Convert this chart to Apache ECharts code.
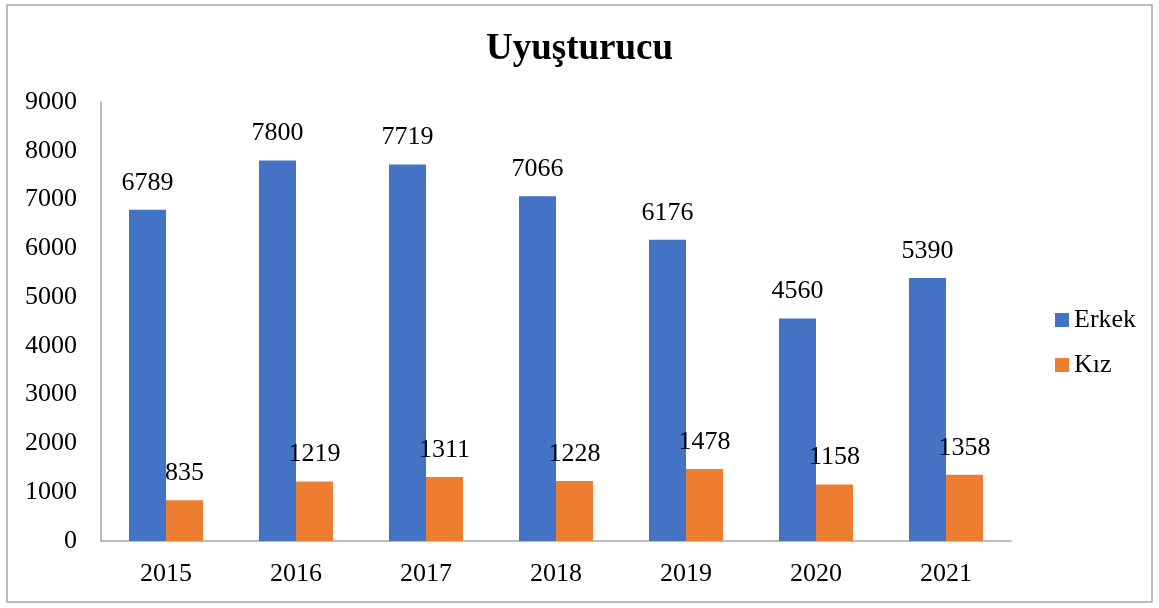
<!DOCTYPE html>
<html>
<head>
<meta charset="utf-8">
<script src="https://cdn.jsdelivr.net/npm/echarts@6/dist/echarts.min.js"></script>
<style>
  html, body { margin: 0; padding: 0; background: #fff; }
  .charts { width: 1159px; height: 608px; }
</style>
</head>
<body>
<div class="charts"></div>
<script>
var years = ['2015', '2016', '2017', '2018', '2019', '2020', '2021'];
var erkek = [6789, 7800, 7719, 7066, 6176, 4560, 5390];
var kiz = [835, 1219, 1311, 1228, 1478, 1158, 1358];

var charts = document.querySelector('.charts');
var myChart = echarts.init(charts, null, {renderer: 'canvas'});

var font = '"Liberation Serif", "Times New Roman", serif';
var labelStyle = {
    show: true,
    position: 'top',
    distance: 14,
    color: '#000',
    fontFamily: font,
    fontSize: 26
};

var option = {
    animation: false,
    graphic: [{
        type: 'rect',
        shape: {x: 7, y: 5, width: 1145, height: 597},
        style: {fill: 'none', stroke: '#a6a6a6', lineWidth: 1.5}
    }],
    title: {
        text: 'Uyuşturucu',
        left: 'center',
        top: 26,
        textStyle: {fontFamily: font, fontSize: 37, fontWeight: 'bold', color: '#000'}
    },
    legend: {
        orient: 'vertical',
        left: 1050,
        top: 302,
        itemWidth: 14,
        itemHeight: 14,
        itemGap: 19,
        icon: 'rect',
        textStyle: {fontFamily: font, fontSize: 26, color: '#000'},
        data: ['Erkek', 'Kız']
    },
    grid: {left: 101, right: 148, top: 102, bottom: 67},
    xAxis: {
        type: 'category',
        data: years,
        axisLine: {lineStyle: {color: '#a6a6a6', width: 1.5}},
        axisTick: {show: false},
        axisLabel: {fontFamily: font, fontSize: 26, color: '#000', margin: 20}
    },
    yAxis: {
        type: 'value',
        min: 0,
        max: 9000,
        interval: 1000,
        axisLine: {show: true, lineStyle: {color: '#a6a6a6', width: 1.5}},
        axisTick: {show: false},
        splitLine: {show: false},
        axisLabel: {
            fontFamily: font, fontSize: 26, color: '#000', margin: 24,
            formatter: function (v) { return String(v); }
        }
    },
    series: [
        {
            name: 'Erkek',
            type: 'bar',
            data: erkek,
            barWidth: 37,
            barGap: '0%',
            itemStyle: {color: '#4472C4'},
            label: labelStyle
        },
        {
            name: 'Kız',
            type: 'bar',
            data: kiz,
            barWidth: 37,
            barGap: '0%',
            itemStyle: {color: '#ED7D31'},
            label: labelStyle
        }
    ]
};

myChart.setOption(option);
</script>
</body>
</html>
